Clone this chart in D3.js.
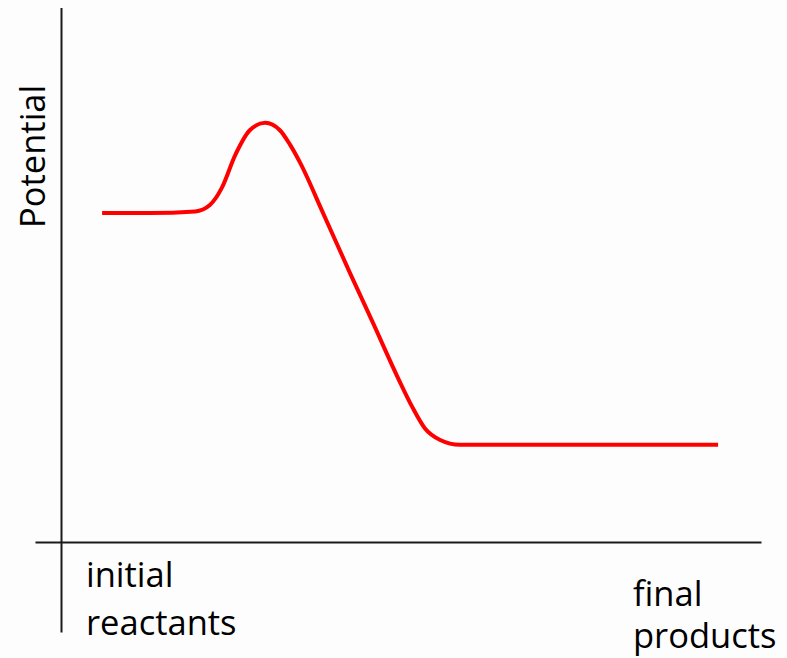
<!DOCTYPE html>
<html>
<head>
<meta charset="utf-8">
<script src="https://cdn.jsdelivr.net/npm/d3@7"></script>
<style>
  html, body { margin: 0; padding: 0; background: #ffffff; }
  svg { display: block; }
  text { font-family: "Open Sans", "Noto Sans", sans-serif; fill: #000; }
</style>
</head>
<body>
<script>
// Reaction progress (0-100) and potential energy (0-100)
const progress  = [5.8, 12.6, 19.1, 21.2, 22.9, 24.8, 26.9, 29.1, 31.2, 32.6, 34.1, 37.4, 41.2, 44.4, 48.4, 50.1, 51.9, 54.1, 56.9, 76.9, 93.8];
const potential = [61.7, 61.7, 62.0, 63.2, 66.4, 72.5, 77.2, 78.6, 77.2, 74.6, 71.1, 61.6, 50.5, 41.4, 29.9, 25.4, 21.4, 19.2, 18.3, 18.3, 18.3];
const yLabel = "Potential";
const startLabel = ["initial", "reactants"];
const endLabel = ["final", "products"];

const W = 787, H = 658;
const svg = d3.select("body").append("svg").attr("width", W).attr("height", H);
svg.append("rect").attr("width", W).attr("height", H).attr("fill", "#fdfdfd");

const x = d3.scaleLinear().domain([0, 100]).range([61.5, 761.5]);
const y = d3.scaleLinear().domain([0, 100]).range([542.5, 8.5]);

const g = svg.append("g");

// axes (no ticks)
g.append("line")
  .attr("x1", x(0)).attr("x2", x(0))
  .attr("y1", y(100) - 0.5).attr("y2", y(0) + 90)
  .attr("stroke", "#1a1a1a").attr("stroke-width", 2);
g.append("line")
  .attr("x1", x(0) - 26).attr("x2", x(100))
  .attr("y1", y(0)).attr("y2", y(0))
  .attr("stroke", "#1a1a1a").attr("stroke-width", 2);

const pts = progress.map((p, i) => [p, potential[i]]);
const line = d3.line()
  .x(d => x(d[0]))
  .y(d => y(d[1]))
  .curve(d3.curveMonotoneX);

g.append("path")
  .attr("d", line(pts))
  .attr("fill", "none")
  .attr("stroke", "#ff0000")
  .attr("stroke-width", 4)
  .attr("stroke-linecap", "butt")
  .attr("stroke-linejoin", "round");

// labels
const fs = 34.5;
g.append("text")
  .attr("transform", `translate(45,228) rotate(-90)`)
  .attr("font-size", fs)
  .text(yLabel);

const t1 = g.append("text").attr("font-size", fs);
t1.append("tspan").attr("x", 86).attr("y", 587).text(startLabel[0]);
t1.append("tspan").attr("x", 86).attr("y", 635).text(startLabel[1]);

const t2 = g.append("text").attr("font-size", fs);
t2.append("tspan").attr("x", 633).attr("y", 606).text(endLabel[0]);
t2.append("tspan").attr("x", 633).attr("y", 648).text(endLabel[1]);
</script>
</body>
</html>
